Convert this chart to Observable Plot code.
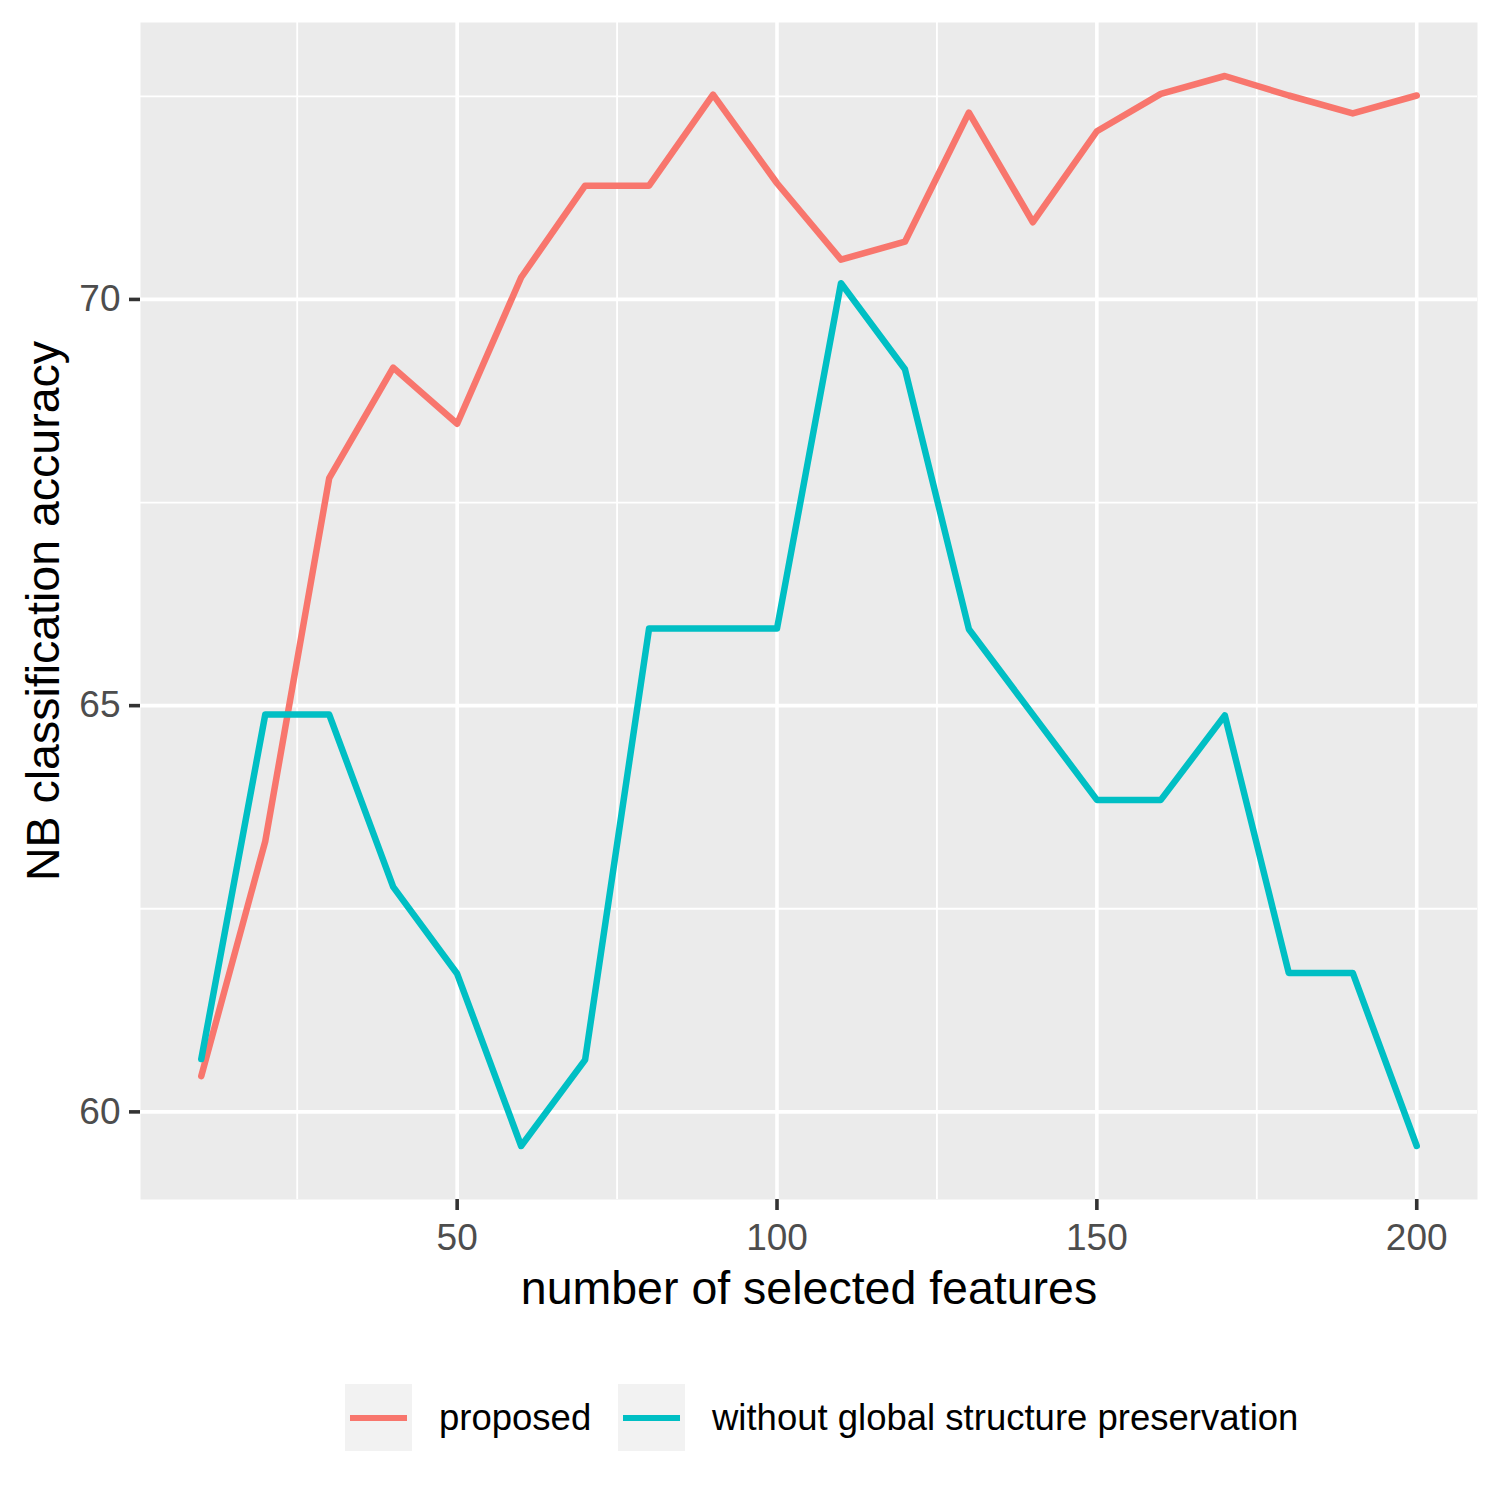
<!DOCTYPE html>
<html>
<head>
<meta charset="utf-8">
<script src="https://cdn.jsdelivr.net/npm/d3@7"></script>
<script src="https://cdn.jsdelivr.net/npm/@observablehq/plot@0.6"></script>
<style>
  html, body { margin: 0; padding: 0; background: #fff; }
  body { width: 1500px; height: 1500px; font-family: "Liberation Sans", Arial, sans-serif; }
  #legend { position: relative; height: 160px; }
  .item { position: absolute; top: 44px; display: flex; align-items: center; }
  .key { width: 67px; height: 67px; background: #F2F2F2; position: relative; }
  .key span { position: absolute; left: 5px; right: 5px; top: 30.5px; height: 6px; }
  .lab { font-size: 36.5px; color: #000; margin-left: 27px; white-space: nowrap; }
</style>
</head>
<body>
<div id="chart"></div>
<div id="legend"></div>
<script>
const features = [10,20,30,40,50,60,70,80,90,100,110,120,130,140,150,160,170,180,190,200];
const proposed = [60.44,63.33,67.80,69.16,68.47,70.27,71.40,71.40,72.52,71.43,70.49,70.71,72.30,70.95,72.07,72.53,72.75,72.51,72.29,72.51];
const withoutGlobal = [60.65,64.89,64.89,62.77,61.70,59.58,60.64,65.95,65.95,65.95,70.20,69.14,65.94,64.89,63.84,63.84,64.88,61.71,61.71,59.58];
const seriesNames = ["proposed", "without global structure preservation"];
const seriesColors = ["#F8766D", "#00BFC4"];
const xMajor = [50,100,150,200];
const xMinor = [25,75,125,175];
const yMajor = [60,65,70];
const yMinor = [62.5,67.5,72.5];

const data = [];
features.forEach((f, i) => {
  data.push({x: f, y: proposed[i], s: seriesNames[0]});
});
features.forEach((f, i) => {
  data.push({x: f, y: withoutGlobal[i], s: seriesNames[1]});
});

const allY = proposed.concat(withoutGlobal);
const yMin = d3.min(allY), yMax = d3.max(allY);
const yPad = (yMax - yMin) * 0.05;
const xPad = (d3.max(features) - d3.min(features)) * 0.05;

const chart = Plot.plot({
  width: 1500,
  height: 1340,
  marginLeft: 140,
  marginRight: 23,
  marginTop: 22,
  marginBottom: 141,
  style: {fontFamily: '"Liberation Sans", Arial, sans-serif', background: "white"},
  x: {domain: [d3.min(features) - xPad, d3.max(features) + xPad]},
  y: {domain: [yMin - yPad, yMax + yPad]},
  color: {domain: seriesNames, range: seriesColors},
  marks: [
    Plot.frame({fill: "#EBEBEB", stroke: null}),
    Plot.ruleX(xMinor, {stroke: "white", strokeWidth: 1.8}),
    Plot.ruleY(yMinor, {stroke: "white", strokeWidth: 1.8}),
    Plot.ruleX(xMajor, {stroke: "white", strokeWidth: 3.6}),
    Plot.ruleY(yMajor, {stroke: "white", strokeWidth: 3.6}),
    Plot.line(data, {x: "x", y: "y", z: "s", stroke: "s", strokeWidth: 6.5, strokeLinejoin: "round"}),
    Plot.axisX({ticks: xMajor, tickSize: 11, tickPadding: 13, stroke: "#333333", strokeWidth: 3.6, fill: "#4D4D4D", fontSize: 37, label: null}),
    Plot.axisY({ticks: yMajor, tickSize: 11, tickPadding: 9, stroke: "#333333", strokeWidth: 3.6, fill: "#4D4D4D", fontSize: 37, label: null}),
    Plot.text(["number of selected features"], {frameAnchor: "bottom", dy: 104, fontSize: 46.5, fill: "black", textAnchor: "middle"}),
    Plot.text(["NB classification accuracy"], {frameAnchor: "left", dx: -96, rotate: -90, fontSize: 46.5, fill: "black", textAnchor: "middle"})
  ]
});
document.getElementById("chart").appendChild(chart);

const legend = document.getElementById("legend");
const lefts = [345, 618];
seriesNames.forEach((name, i) => {
  const item = document.createElement("div");
  item.className = "item";
  item.style.left = lefts[i] + "px";
  const key = document.createElement("div");
  key.className = "key";
  const ln = document.createElement("span");
  ln.style.background = seriesColors[i];
  key.appendChild(ln);
  const lab = document.createElement("div");
  lab.className = "lab";
  lab.textContent = name;
  item.appendChild(key);
  item.appendChild(lab);
  legend.appendChild(item);
});
</script>
</body>
</html>
